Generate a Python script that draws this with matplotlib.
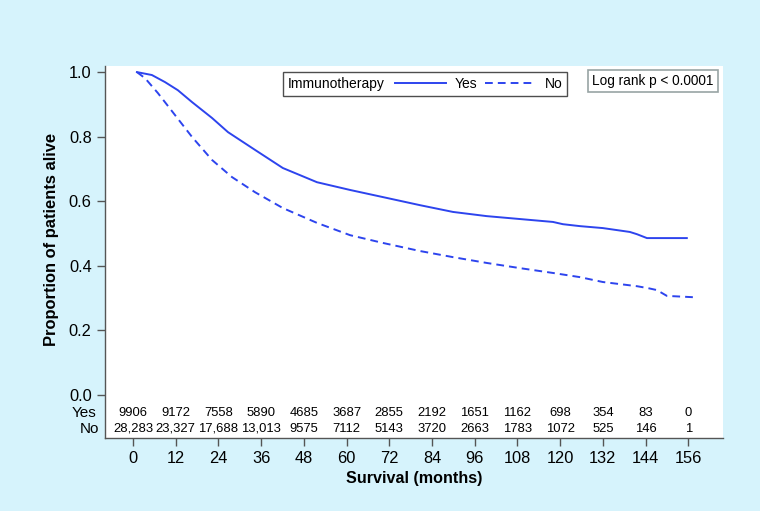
import matplotlib
matplotlib.use("Agg")
import matplotlib.pyplot as plt
from matplotlib.lines import Line2D
from matplotlib.offsetbox import HPacker
import numpy as np

plt.rcParams["font.family"] = ["Liberation Sans", "DejaVu Sans"]

# Kaplan-Meier curves (months, proportion alive)
yes_months = [1.1, 5.3, 9.0, 12.6, 16.6, 22.2, 26.7, 34.3, 42.1, 51.7, 61.0, 70.2,
              80.6, 89.9, 99.4, 108.7, 118.0, 120.8, 125.6, 132.0, 139.6, 141.6,
              144.4, 155.6]
yes_surv = [1.000, 0.991, 0.969, 0.944, 0.907, 0.858, 0.814, 0.759, 0.703, 0.659,
            0.635, 0.613, 0.588, 0.567, 0.554, 0.545, 0.536, 0.529, 0.523, 0.517,
            0.505, 0.498, 0.486, 0.486]

no_months = [1.1, 3.4, 7.0, 11.8, 16.6, 22.2, 27.8, 34.3, 42.1, 51.7, 61.0, 70.2,
             80.6, 89.9, 99.4, 108.7, 118.0, 125.6, 132.0, 141.6, 144.7, 147.2,
             150.0, 157.3]
no_surv = [1.000, 0.981, 0.935, 0.867, 0.799, 0.728, 0.675, 0.628, 0.579, 0.533,
           0.495, 0.471, 0.446, 0.427, 0.409, 0.393, 0.378, 0.365, 0.350, 0.337,
           0.331, 0.325, 0.307, 0.303]

# numbers at risk
risk_months = list(range(0, 157, 12))
risk_yes = [9906, 9172, 7558, 5890, 4685, 3687, 2855, 2192, 1651, 1162, 698, 354, 83, 0]
risk_no = [28283, 23327, 17688, 13013, 9575, 7112, 5143, 3720, 2663, 1783, 1072, 525, 146, 1]

bg = "#d6f3fc"
blue = "#2d44ee"
spine_col = "#555555"

fig = plt.figure(figsize=(7.6, 5.11), dpi=100, facecolor=bg)
ax = fig.add_axes([0.138, 0.1429, 0.813, 0.728])
ax.set_facecolor("white")

yes_line, = ax.plot(yes_months, yes_surv, color=blue, lw=1.4)
no_line, = ax.plot(no_months, no_surv, color=blue, lw=1.4, linestyle=(0, (4, 2.6)))

ax.set_xlim(-7.9, 165.7)
ax.set_ylim(-0.133, 1.019)
ax.set_xticks(risk_months)
ax.set_yticks(np.arange(0, 1.01, 0.2))
ax.set_yticklabels([f"{v:.1f}" for v in np.arange(0, 1.01, 0.2)])
ax.tick_params(axis="both", direction="out", length=6, width=1, color=spine_col,
               labelsize=11.8, pad=3.5)

for side in ["top", "right"]:
    ax.spines[side].set_visible(False)
for side in ["left", "bottom"]:
    ax.spines[side].set_color(spine_col)
    ax.spines[side].set_linewidth(1)

ax.set_xlabel("Survival (months)", fontsize=11.6, fontweight="bold")
ax.set_ylabel("Proportion of patients alive", fontsize=11.9, fontweight="bold")
ax.xaxis.set_label_coords(0.5, -0.09)
ax.yaxis.set_label_coords(-0.075, 0.535)

# numbers at risk inside the plot
def fmt(n):
    return f"{n:,}" if n >= 10000 else str(n)

for m, y, n in zip(risk_months, risk_yes, risk_no):
    ax.text(m, -0.056, fmt(y), ha="center", va="center", fontsize=9.4)
    ax.text(m, -0.105, fmt(n), ha="center", va="center", fontsize=9.4)

trans = ax.get_yaxis_transform()
ax.text(-0.013, -0.056, "Yes", transform=trans, ha="right", va="center", fontsize=11)
ax.text(-0.010, -0.105, "No", transform=trans, ha="right", va="center", fontsize=11)

# legend in one row, title on the left
handles = [Line2D([], [], color=blue, lw=1.4),
           Line2D([], [], color=blue, lw=1.4, linestyle=(0, (4, 2.6)))]
leg = ax.legend(handles, ["Yes", "No"], title="Immunotherapy", ncol=2,
                loc="upper left", bbox_to_anchor=(0.288, 0.984), fontsize=10,
                title_fontsize=10, frameon=True, fancybox=False,
                handlelength=3.7, handletextpad=0.6, columnspacing=0.55,
                borderpad=0.35, borderaxespad=0)
leg.get_frame().set_edgecolor("#222222")
leg.get_frame().set_linewidth(1)
old = leg._legend_box
row = HPacker(pad=old.pad, sep=7.5, align="center", children=old.get_children())
row.set_figure(fig)
row.axes = ax
row.set_offset(leg._findoffset)
leg._legend_box = row

ax.text(0.887, 0.960, "Log rank p < 0.0001", transform=ax.transAxes, ha="center",
        va="center", fontsize=9.8,
        bbox=dict(boxstyle="square,pad=0.3", facecolor="white", edgecolor="#98a4a4",
                  linewidth=1.2))

fig.savefig("out.png", dpi=100, facecolor=bg)
